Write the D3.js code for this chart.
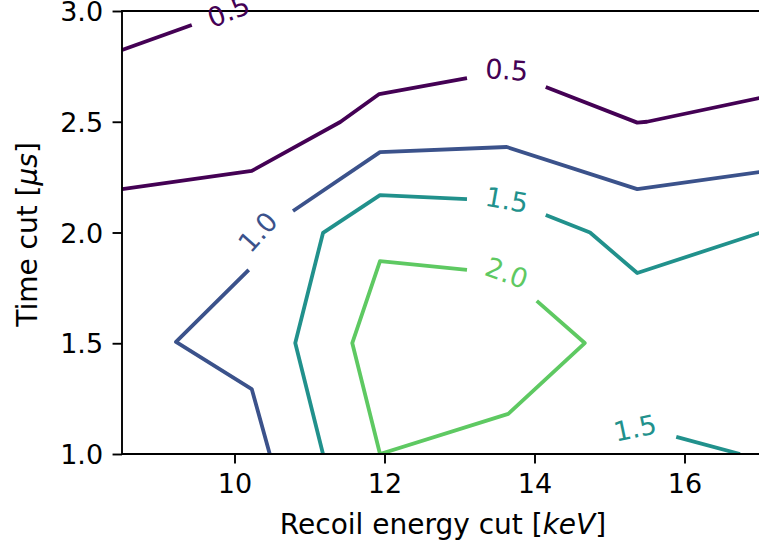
<!DOCTYPE html>
<html>
<head>
<meta charset="utf-8">
<script src="https://cdn.jsdelivr.net/npm/d3@7/dist/d3.min.js"></script>
<style>
  html, body { margin: 0; padding: 0; background: #fff; }
  svg { display: block; }
  text { font-family: "DejaVu Sans", sans-serif; }
</style>
</head>
<body>
<svg id="chart" width="759" height="543"></svg>
<script>
// ---- data ----
const levels = [0.5, 1.0, 1.5, 2.0];
const xTicks = [10, 12, 14, 16];
const yTicks = [1.0, 1.5, 2.0, 2.5, 3.0];

// contour polylines per level, [energy cut keV, time cut us]
const contour05 = [
  [[8.5, 2.824], [9.43, 2.937]],
  [[8.5, 2.196], [10.23, 2.278], [11.41, 2.499], [11.93, 2.625], [13.1, 2.697]],
  [[14.15, 2.657], [15.37, 2.496], [15.5, 2.50], [17.0, 2.607]]
];
const contour10 = [
  [[17.0, 2.273], [15.37, 2.196], [13.63, 2.386], [11.94, 2.363], [10.78, 2.097]],
  [[10.19, 1.831], [9.22, 1.506], [10.23, 1.293], [10.47, 1.0]]
];
const contour15 = [
  [[17.0, 1.998], [15.37, 1.817], [14.74, 2.0], [14.15, 2.079]],
  [[13.1, 2.151], [11.94, 2.169], [11.18, 1.998], [10.81, 1.501], [11.18, 1.0]],
  [[15.89, 1.077], [16.74, 1.0]]
];
const contour20 = [
  [[14.03, 1.691], [14.67, 1.501], [13.65, 1.181], [11.94, 1.0], [11.57, 1.501], [11.94, 1.871], [13.1, 1.831]]
];
const contours = [contour05, contour10, contour15, contour20];

// inline contour labels
const labelLevelIdx = [0, 0, 1, 2, 2, 3];
const labelX = [9.92, 13.63, 10.31, 13.63, 15.34, 13.63];
const labelY = [2.998, 2.734, 2.002, 2.147, 1.117, 1.817];
const labelAngle = [-22, 4, -48, 10, -12, 20];

// ---- styles ----
const levelColors = ["#440154", "#3b528b", "#21918c", "#5ec962"];
const FS = 27;
const FS_TITLE = 28;
const margin = { left: 122, top: 11, right: 759.5, bottom: 454 };

const svg = d3.select("#chart");
const x = d3.scaleLinear().domain([8.5, 17.0]).range([margin.left, margin.right]);
const y = d3.scaleLinear().domain([1.0, 3.0]).range([margin.bottom, margin.top]);

svg.append("defs").append("clipPath").attr("id", "plotclip")
  .append("rect")
  .attr("x", margin.left).attr("y", margin.top)
  .attr("width", margin.right - margin.left).attr("height", margin.bottom - margin.top);

const line = d3.line().x(d => x(d[0])).y(d => y(d[1]));

const gLines = svg.append("g").attr("clip-path", "url(#plotclip)");
contours.forEach((segs, i) => {
  gLines.selectAll(null).data(segs).enter().append("path")
    .attr("d", line)
    .attr("fill", "none")
    .attr("stroke", levelColors[i])
    .attr("stroke-width", 3.8)
    .attr("stroke-linejoin", "round")
    .attr("stroke-linecap", "butt");
});

// axes
const tickLen = 9.45, tickPad = 9.45;
const xAxis = d3.axisBottom(x).tickValues(xTicks).tickSize(tickLen).tickSizeOuter(0).tickPadding(tickPad).tickFormat(d3.format("d"));
const yAxis = d3.axisLeft(y).tickValues(yTicks).tickSize(tickLen).tickSizeOuter(0).tickPadding(tickPad).tickFormat(d3.format(".1f"));

const gx = svg.append("g").attr("transform", `translate(0,${margin.bottom})`).call(xAxis);
const gy = svg.append("g").attr("transform", `translate(${margin.left},0)`).call(yAxis);
[gx, gy].forEach(g => {
  g.select(".domain").remove();
  g.selectAll(".tick line").attr("stroke", "#000").attr("stroke-width", 1.9);
  g.selectAll(".tick text").attr("fill", "#000").style("font-size", FS + "px").style("font-family", "DejaVu Sans");
});
gx.selectAll(".tick text").attr("dy", null).attr("y", tickLen + tickPad).attr("dominant-baseline", "hanging");
gy.selectAll(".tick text").attr("dy", "0.36em");

// spines
const spines = svg.append("g").attr("stroke", "#000").attr("stroke-width", 1.9).attr("fill", "none");
spines.append("line").attr("x1", margin.left).attr("x2", margin.left).attr("y1", margin.top - 0.95).attr("y2", margin.bottom + 0.95);
spines.append("line").attr("x1", margin.left).attr("x2", 760).attr("y1", margin.bottom).attr("y2", margin.bottom);
spines.append("line").attr("x1", margin.left).attr("x2", 760).attr("y1", margin.top).attr("y2", margin.top);

// contour labels
svg.append("g").selectAll("text").data(labelX).enter().append("text")
  .attr("transform", (d, i) => `translate(${x(labelX[i])},${y(labelY[i])}) rotate(${labelAngle[i]})`)
  .attr("text-anchor", "middle")
  .attr("dominant-baseline", "central")
  .attr("fill", (d, i) => levelColors[labelLevelIdx[i]])
  .style("font-size", FS + "px")
  .text((d, i) => levels[labelLevelIdx[i]].toFixed(1));

// axis titles
const xl = svg.append("text").attr("x", 443).attr("y", 534).attr("text-anchor", "middle")
  .style("font-size", FS_TITLE + "px").attr("fill", "#000");
xl.append("tspan").text("Recoil energy cut [");
xl.append("tspan").style("font-style", "italic").text("keV");
xl.append("tspan").text("]");

const yl = svg.append("text").attr("transform", `translate(37,${(margin.top + margin.bottom) / 2 + 2}) rotate(-90)`)
  .attr("text-anchor", "middle").style("font-size", FS_TITLE + "px").attr("fill", "#000");
yl.append("tspan").text("Time cut [");
yl.append("tspan").style("font-style", "italic").text("μs");
yl.append("tspan").text("]");
</script>
</body>
</html>
